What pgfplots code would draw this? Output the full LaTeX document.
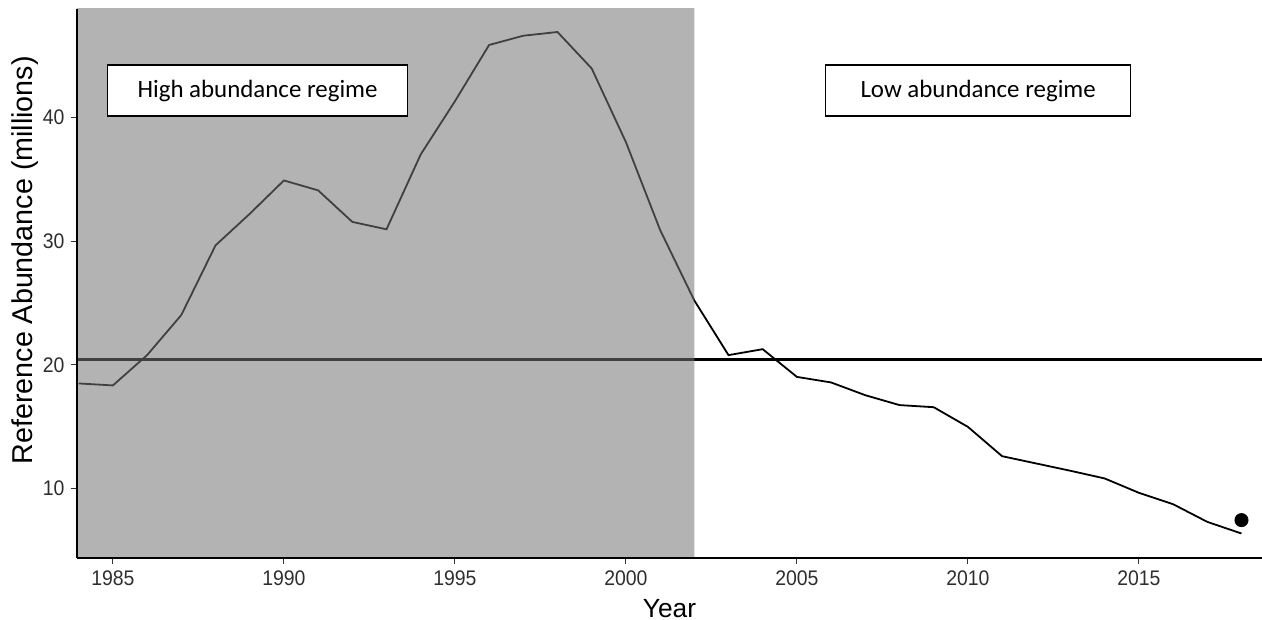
\documentclass[border=0pt]{standalone}
\usepackage{fontspec}
\setmainfont{Liberation Sans}
\newfontfamily\calibri{Carlito}
\usepackage{pgfplots}
\pgfplotsset{compat=1.18}
\definecolor{shade}{RGB}{117,117,117}
\definecolor{tickgray}{RGB}{51,51,51}
\begin{document}
\begin{tikzpicture}
\begin{axis}[
 scale only axis, width=592.5bp, height=274.25bp,
 xmin=1983.95, xmax=2018.6, ymin=4.42, ymax=48.76,
 axis lines=left, axis line style={-, line width=1bp, black},
 axis on top,
 tick align=outside, tick style={tickgray, line width=0.5bp}, major tick length=3bp,
 xtick={1985,1990,1995,2000,2005,2010,2015}, ytick={10,20,30,40},
 minor tick num=0,
 /pgf/number format/assume math mode=true,
 /pgf/number format/1000 sep={},
 ticklabel style={font=\fontsize{10.6}{12}\selectfont, text=black!82, xscale=0.92},
 xlabel={Year}, ylabel={Reference Abundance (millions)},
 xlabel style={font=\fontsize{13.2}{15}\selectfont},
 ylabel style={font=\fontsize{14.4}{16}\selectfont, xshift=11.5bp, yshift=-4.5bp},
 clip=true,
]
\coordinate (SW) at (rel axis cs:0,0);
\coordinate (NE) at (rel axis cs:1,1);
\addplot[black, line width=0.9bp, mark=none] coordinates {
(1984,18.49) (1985,18.33) (1986,20.78) (1987,24.02) (1988,29.65) (1989,32.2)
(1990,34.9) (1991,34.1) (1992,31.55) (1993,30.95) (1994,37.0) (1995,41.3)
(1996,45.85) (1997,46.6) (1998,46.9) (1999,43.95) (2000,38.0) (2001,30.9)
(2002,25.2) (2003,20.78) (2004,21.26) (2005,19.02) (2006,18.57) (2007,17.54)
(2008,16.74) (2009,16.57) (2010,14.98) (2011,12.61) (2012,12.02) (2013,11.43)
(2014,10.81) (2015,9.65) (2016,8.73) (2017,7.3) (2018,6.36)
};
\addplot[black, line width=1.1bp, mark=none] coordinates {(1983,20.43) (2020,20.43)};
\addplot[draw=none, fill=shade, fill opacity=0.55, mark=none] coordinates {(1983,0) (2002,0) (2002,60) (1983,60) (1983,0)};
\addplot[only marks, mark=*, mark size=3.3bp, black] coordinates {(2018,7.44)};
\node[draw=black, line width=0.75bp, fill=white, minimum width=150bp, minimum height=25.5bp, inner sep=0pt, font=\calibri\fontsize{12.5}{15}\selectfont] at (axis cs:1989.23,42.17) {High abundance regime};
\node[draw=black, line width=0.75bp, fill=white, minimum width=152.5bp, minimum height=25.5bp, inner sep=0pt, font=\calibri\fontsize{12.5}{15}\selectfont] at (axis cs:2010.30,42.17) {Low abundance regime};
\end{axis}
\pgfresetboundingbox
\path[use as bounding box] ([xshift=-38.5bp,yshift=-31.25bp]SW) rectangle ([yshift=4.5bp]NE);
\end{tikzpicture}
\end{document}
